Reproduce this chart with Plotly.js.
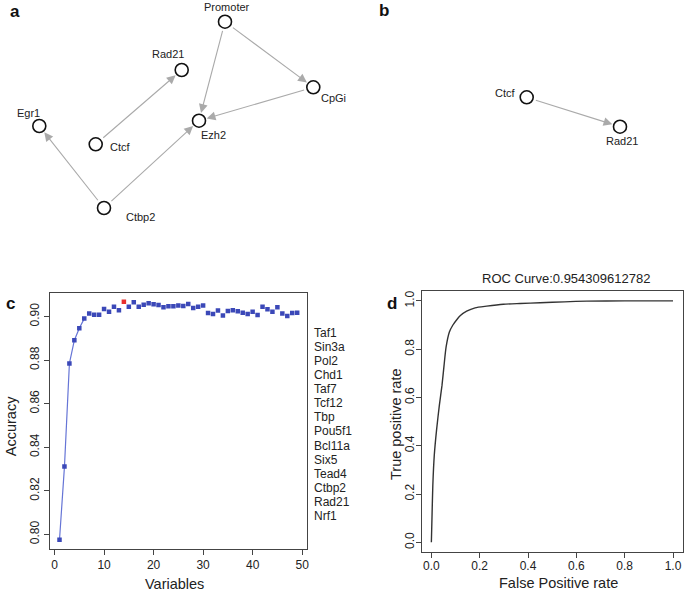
<!DOCTYPE html>
<html><head><meta charset="utf-8">
<script src="https://cdn.plot.ly/plotly-3.0.1.min.js"></script>
<style>html,body{margin:0;padding:0;background:#fff}#chart{width:685px;height:593px}</style>
</head><body><div id="chart"></div>
<script>
// ---------- Panel a: network ----------
const netA_nodes = ['Promoter', 'Rad21', 'CpGi', 'Egr1', 'Ezh2', 'Ctcf', 'Ctbp2'];
const netA_x = [225, 181.7, 313.3, 39.3, 199, 95.7, 104];
const netA_y = [21.7, 70, 87.3, 126, 120.7, 144.3, 208];
const netA_from = ['Ctcf', 'Ctbp2', 'Ctbp2', 'Promoter', 'Promoter', 'CpGi'];
const netA_to = ['Rad21', 'Egr1', 'Ezh2', 'Ezh2', 'CpGi', 'Ezh2'];

// ---------- Panel b: network ----------
const netB_nodes = ['Ctcf', 'Rad21'];
const netB_x = [526.7, 620];
const netB_y = [97.3, 126.7];
const netB_from = ['Ctcf'];
const netB_to = ['Rad21'];

// ---------- Panel c: accuracy vs number of variables ----------
const variables = [1,2,3,4,5,6,7,8,9,10,11,12,13,14,15,16,17,18,19,20,21,22,23,24,25,
  26,27,28,29,30,31,32,33,34,35,36,37,38,39,40,41,42,43,44,45,46,47,48,49];
const accuracy = [0.7975,0.8311,0.8785,0.8892,0.8947,0.8991,0.9014,0.9009,0.9009,0.9035,
  0.9022,0.9045,0.9029,0.9068,0.9045,0.9066,0.9046,0.9055,0.9062,0.9057,
  0.9054,0.9043,0.9048,0.9048,0.9051,0.9049,0.9058,0.9040,0.9045,0.9051,
  0.9017,0.9012,0.9028,0.9005,0.9026,0.9029,0.9025,0.9018,0.9012,0.9022,
  0.9008,0.9046,0.9034,0.9023,0.9043,0.9014,0.9003,0.9017,0.9018];
const bestVariables = 14;
const selectedNames = ['Taf1','Sin3a','Pol2','Chd1','Taf7','Tcf12','Tbp','Pou5f1',
  'Bcl11a','Six5','Tead4','Ctbp2','Rad21','Nrf1'];
const cTickVals = [0.80,0.82,0.84,0.86,0.88,0.90];
const cXTickVals = [0,10,20,30,40,50];

// ---------- Panel d: ROC curve ----------
const fpr = [0,0.003,0.006,0.012,0.022,0.033,0.044,0.0525,0.061,0.0745,0.0885,0.105,0.119,
  0.146,0.181,0.229,0.298,0.367,0.45,0.55,0.643,0.8,1.0];
const tpr = [0,0.12,0.235,0.36,0.47,0.567,0.65,0.733,0.809,0.871,0.899,0.922,0.938,
  0.957,0.971,0.978,0.986,0.989,0.992,0.996,0.999,1.0,1.0];
const rocTitle = 'ROC Curve:0.954309612782';
const dTickVals = [0,0.2,0.4,0.6,0.8,1.0];

// ---------- layout helpers ----------
const W = 685, H = 593;
const FONT = 'Liberation Sans, Arial, Helvetica, sans-serif';
const TXT = '#222';
const px = v => v / W;
const py = v => 1 - v / H;

const traces = [];
const annotations = [];

function addNetwork(nodes, xs, ys, from, to, labelOffsets) {
  from.forEach((f, i) => {
    const a = nodes.indexOf(f), b = nodes.indexOf(to[i]);
    annotations.push({
      xref: 'x3', yref: 'y3', axref: 'x3', ayref: 'y3',
      x: xs[b], y: ys[b], ax: xs[a], ay: ys[a],
      showarrow: true, arrowhead: 2, arrowsize: 1.6, arrowwidth: 1.1,
      arrowcolor: '#aaaaaa', standoff: 8, startstandoff: 8, text: ''
    });
  });
  traces.push({
    type: 'scatter', mode: 'markers', x: xs, y: ys, xaxis: 'x3', yaxis: 'y3',
    marker: {symbol: 'circle', size: 13, color: '#ffffff', line: {color: '#111', width: 1.6}},
    hoverinfo: 'text', text: nodes, showlegend: false
  });
  nodes.forEach((n, i) => {
    annotations.push({
      xref: 'x3', yref: 'y3', x: xs[i] + labelOffsets[i][0], y: ys[i] + labelOffsets[i][1],
      text: n, showarrow: false, xanchor: 'center', yanchor: 'middle',
      font: {family: FONT, size: 11, color: TXT}
    });
  });
}

addNetwork(netA_nodes, netA_x, netA_y, netA_from, netA_to,
  [[2,-14.4],[-13.4,-16],[20,11],[-11,-13.3],[14.3,14.3],[25,2.4],[36,8.7]]);
addNetwork(netB_nodes, netB_x, netB_y, netB_from, netB_to,
  [[-21.7,-4.6],[1.7,14]]);

// panel c traces
const nLine = 6;
traces.push({
  type: 'scatter', mode: 'lines', x: variables.slice(0, nLine), y: accuracy.slice(0, nLine),
  line: {color: '#6675d6', width: 1.2}, xaxis: 'x', yaxis: 'y', showlegend: false, hoverinfo: 'skip'
});
traces.push({
  type: 'scatter', mode: 'markers', x: variables, y: accuracy, xaxis: 'x', yaxis: 'y',
  marker: {symbol: 'square', size: 4.5,
    color: variables.map(v => v === bestVariables ? '#e8302c' : '#3b48b8')},
  showlegend: false
});

// panel d trace
traces.push({
  type: 'scatter', mode: 'lines', x: fpr, y: tpr, xaxis: 'x2', yaxis: 'y2',
  line: {color: '#333', width: 1.4, shape: 'spline', smoothing: 0.6}, showlegend: false
});

// selected variable names (panel c, right)
selectedNames.forEach((n, i) => {
  annotations.push({
    xref: 'paper', yref: 'paper', x: px(312.2), y: py(332.7 + i * 14.1),
    text: n, showarrow: false, xanchor: 'left', yanchor: 'middle',
    font: {family: FONT, size: 12, color: TXT}
  });
});

// panel letters
[['a', 15, 11.7], ['b', 384, 10.7], ['c', 10, 303.3], ['d', 391.7, 303.3]].forEach(l => {
  annotations.push({
    xref: 'paper', yref: 'paper', x: px(l[1]), y: py(l[2]), text: '<b>' + l[0] + '</b>',
    showarrow: false, xanchor: 'center', yanchor: 'middle',
    font: {family: FONT, size: 17, color: '#111'}
  });
});

// titles
function label(text, x, y, size, angle) {
  annotations.push({xref: 'paper', yref: 'paper', x: px(x), y: py(y), text: text,
    showarrow: false, xanchor: 'center', yanchor: 'middle', textangle: angle || 0,
    font: {family: FONT, size: size, color: TXT}});
}
label(rocTitle, 565.8, 278.3, 13);
label('Accuracy', 10.5, 426.7, 14.5, -90);
label('Variables', 174.5, 583.5, 14.5);
label('True positive rate', 396, 425, 14.5, -90);
label('False Positive rate', 558.3, 582.5, 14.5);

const axCommon = {
  showline: true, mirror: true, linecolor: '#444', linewidth: 1,
  ticks: 'outside', ticklen: 5, tickwidth: 1, tickcolor: '#444',
  showgrid: false, zeroline: false, automargin: false,
  tickfont: {family: FONT, size: 12, color: TXT}
};

const layout = {
  width: W, height: H, margin: {l: 0, r: 0, t: 0, b: 0},
  paper_bgcolor: '#fff', plot_bgcolor: '#fff', showlegend: false,
  xaxis: Object.assign({}, axCommon, {domain: [px(50), px(306.7)], range: [-0.92, 50.92],
    tickvals: cXTickVals, anchor: 'y', ticklabelstandoff: -1}),
  yaxis: Object.assign({}, axCommon, {domain: [py(549.3), py(292.7)], range: [0.7931, 0.9110],
    tickvals: cTickVals, tickformat: '.2f', tickangle: -90, anchor: 'x', ticklabelstandoff: 0}),
  xaxis2: Object.assign({}, axCommon, {domain: [px(421.7), px(682.7)], range: [-0.04, 1.04],
    tickvals: dTickVals, tickformat: '.1f', anchor: 'y2', ticklabelstandoff: -2}),
  yaxis2: Object.assign({}, axCommon, {domain: [py(552), py(291.2)], range: [-0.04, 1.04],
    tickvals: dTickVals, tickformat: '.1f', tickangle: -90, anchor: 'x2', ticklabelstandoff: -3}),
  xaxis3: {domain: [0, 1], range: [0, W], visible: false, fixedrange: true, anchor: 'y3'},
  yaxis3: {domain: [py(250), 1], range: [250, 0], visible: false, fixedrange: true, anchor: 'x3'},
  annotations: annotations
};

Plotly.newPlot('chart', traces, layout, {staticPlot: true, displayModeBar: false});
</script>
</body></html>
